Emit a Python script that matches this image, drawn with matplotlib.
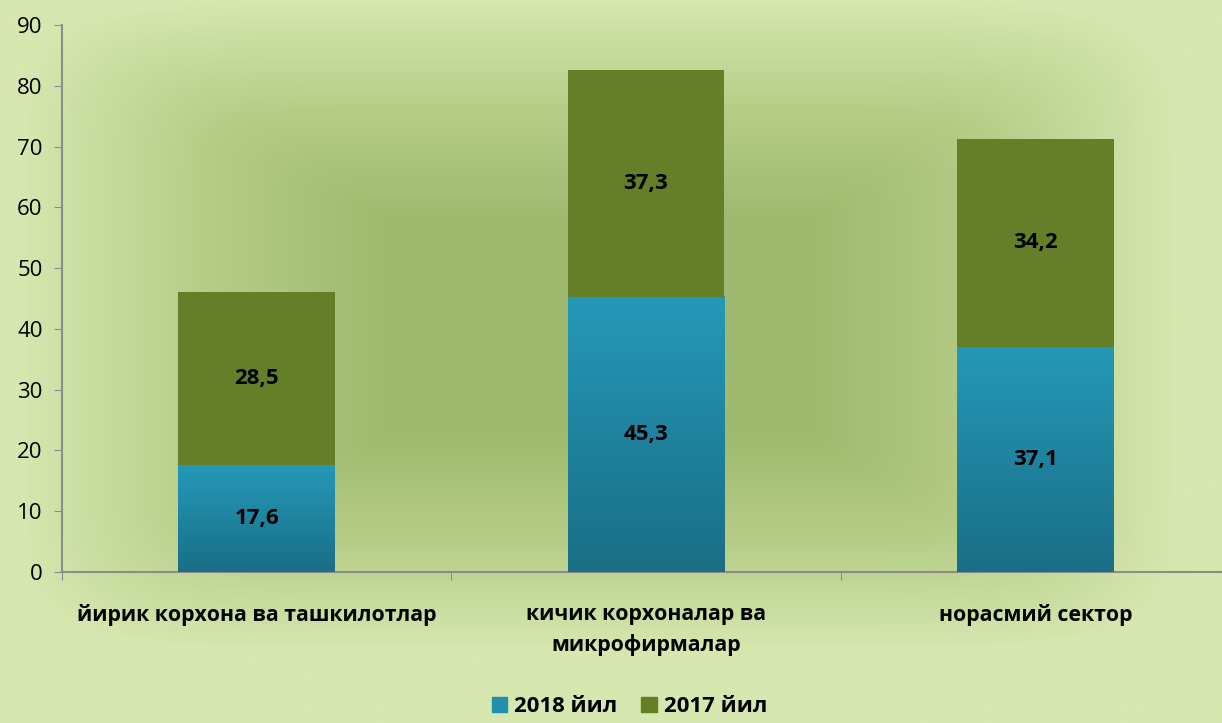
import numpy as np
import matplotlib.pyplot as plt
from matplotlib.colors import LinearSegmentedColormap

# данные
categories = ['йирик корхона ва ташкилотлар', 'кичик корхоналар ва\nмикрофирмалар', 'норасмий сектор']
v2018 = [17.6, 45.3, 37.1]
v2017 = [28.5, 37.3, 34.2]
labels_2018 = ['17,6', '45,3', '37,1']
labels_2017 = ['28,5', '37,3', '34,2']

plt.rcParams['font.family'] = ['Open Sans', 'DejaVu Sans']

fig = plt.figure(figsize=(12.22, 7.23), dpi=100)

# фон: прямоугольный градиент, темнее в центре
bg = fig.add_axes([0, 0, 1, 1], zorder=0)
xx, yy = np.meshgrid(np.linspace(-1, 1, 600), np.linspace(-1, 1, 400))
dx = np.clip((np.abs(xx + 0.02) - 0.35) / 0.6, 0, 1)
dy = np.clip((np.abs(yy + 0.1) - 0.3) / 0.6, 0, 1)
d = np.clip((dx ** 5 + dy ** 5) ** (1 / 5), 0, 1)
bg_cmap = LinearSegmentedColormap.from_list('bg', ['#9fba6f', '#b6cd87', '#d6e7af'])
bg.imshow(d, cmap=bg_cmap, aspect='auto', extent=[0, 1, 0, 1], interpolation='bilinear')
bg.axis('off')

ax = fig.add_axes([62 / 1222, 151 / 723, 1168 / 1222, 547 / 723], zorder=1)
ax.patch.set_alpha(0)

x = np.arange(len(categories))
w = 0.403
blue_cmap = LinearSegmentedColormap.from_list('blue', ['#1a6e86', '#2499b8'])
grad = np.linspace(0, 1, 256).reshape(-1, 1)

for i in range(len(categories)):
    ax.bar(x[i], v2018[i], w, color='#2190ad', zorder=2)
    ax.imshow(grad, cmap=blue_cmap, origin='lower', aspect='auto',
              extent=[x[i] - w / 2, x[i] + w / 2, 0, v2018[i]], zorder=3)
    ax.bar(x[i], v2017[i], w, bottom=v2018[i], color='#647f27', zorder=3)
    ax.text(x[i], v2018[i] / 2, labels_2018[i], ha='center', va='center',
            fontsize=16, fontweight='bold', zorder=4)
    ax.text(x[i], v2018[i] + v2017[i] / 2, labels_2017[i], ha='center', va='center',
            fontsize=16, fontweight='bold', zorder=4)

ax.set_xlim(-0.5, 2.5)
ax.set_ylim(0, 90)
ax.set_yticks(range(0, 91, 10))
ax.tick_params(axis='y', labelsize=16, length=6, color='#8c8c8c', labelcolor='black', pad=8)

ax.set_xticks([-0.5, 0.5, 1.5, 2.5])
ax.set_xticklabels([])
ax.tick_params(axis='x', length=6, color='#8c8c8c')
ax.set_xticks(x, minor=True)
ax.set_xticklabels(categories, minor=True, fontsize=15.3, fontweight='bold', linespacing=1.55)
ax.tick_params(axis='x', which='minor', length=0, pad=23)

for s in ['top', 'right']:
    ax.spines[s].set_visible(False)
for s in ['left', 'bottom']:
    ax.spines[s].set_color('#8c8c8c')
    ax.spines[s].set_linewidth(1.5)

h1 = plt.Rectangle((0, 0), 1, 1, color='#2190ad')
h2 = plt.Rectangle((0, 0), 1, 1, color='#647f27')
fig.legend([h1, h2], ['2018 йил', '2017 йил'], loc='lower center', ncol=2,
           bbox_to_anchor=(0.515, -0.02), frameon=False, handlelength=0.7, handleheight=0.7,
           handletextpad=0.3, columnspacing=1.1, prop={'size': 16, 'weight': 'bold'})

fig.savefig('out.png', dpi=100)
